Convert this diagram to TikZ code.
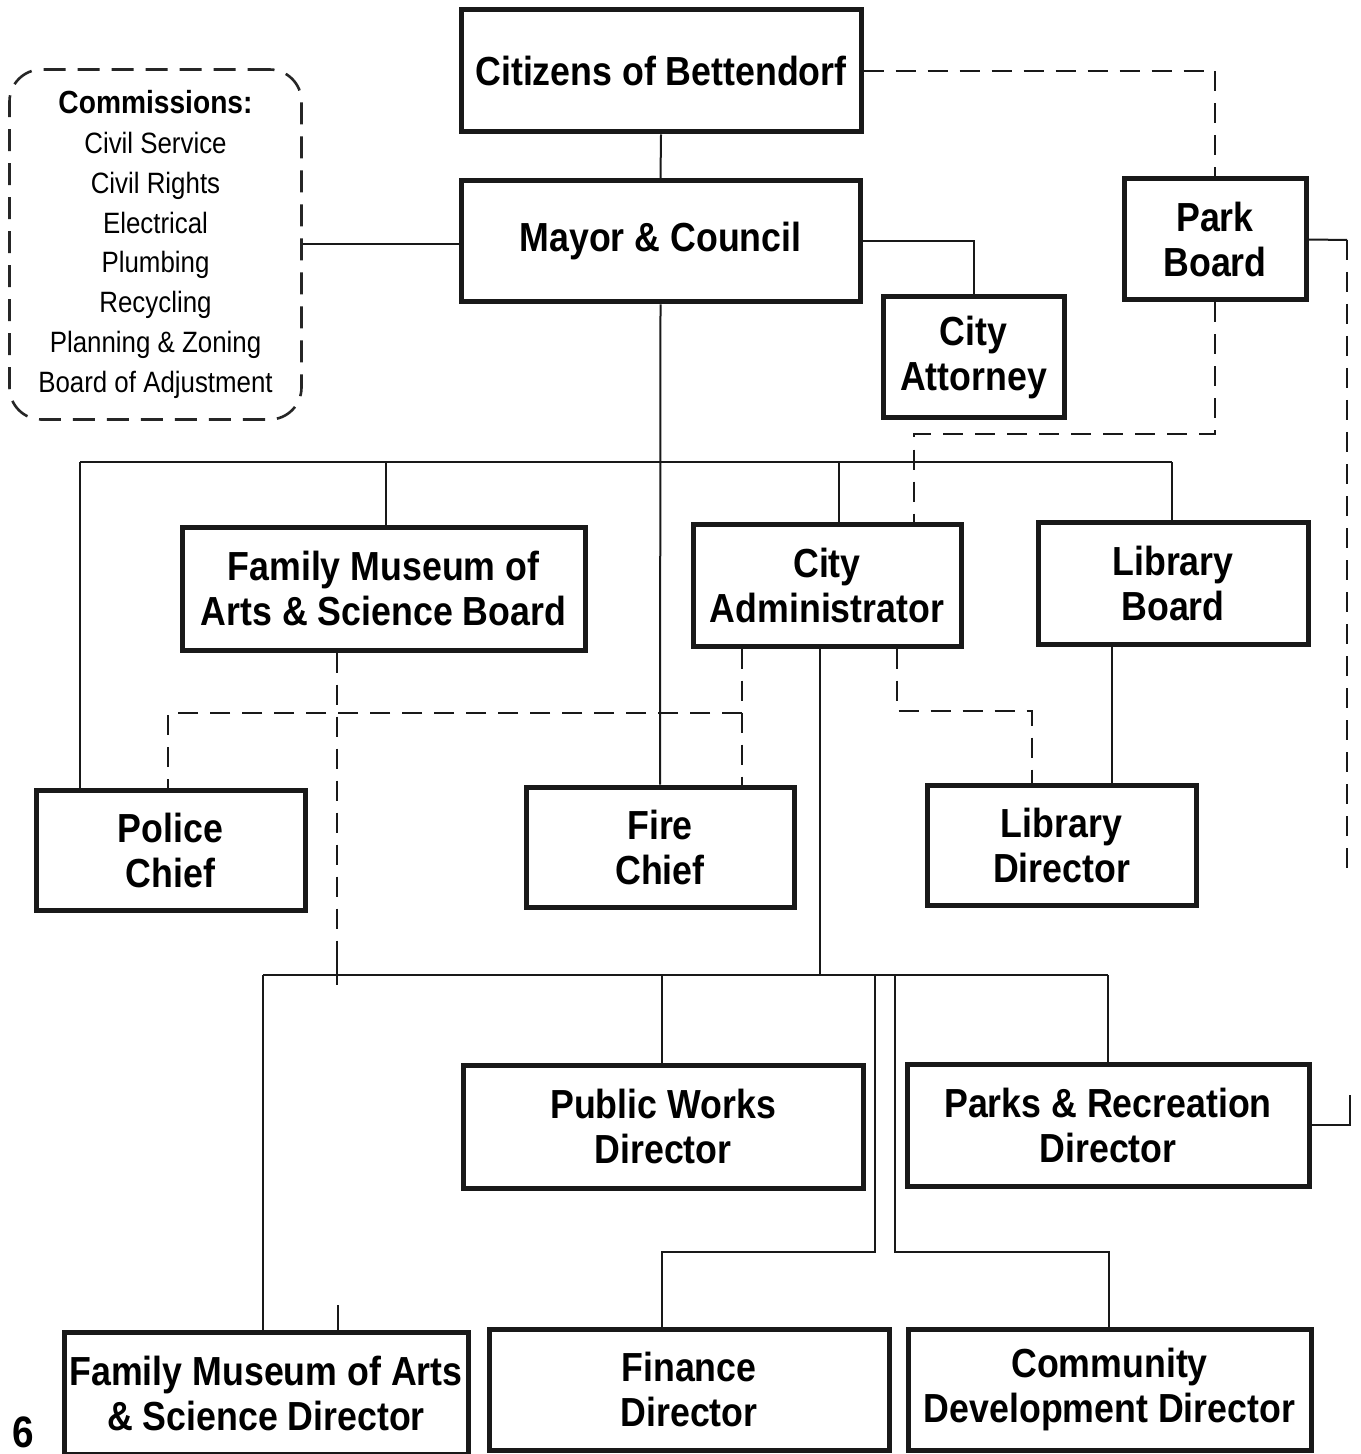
\documentclass[tikz,border=0pt]{standalone}
\usepackage{fontspec}
\setmainfont{Liberation Sans}[FakeStretch=0.88]
\begin{document}
\begin{tikzpicture}[x=0.5pt,y=-0.5pt,
  box/.style={draw=black!90, line width=2.5pt, fill=white, align=center,
    font=\bfseries\fontsize{20.3}{22.5}\selectfont, inner sep=0pt},
  conn/.style={line width=1pt, black!90},
  dsh/.style={line width=1.2pt, black!90, dash pattern=on 10pt off 6pt},
  combox/.style={draw=black!85, line width=1.3pt, dash pattern=on 11pt off 6pt,
    rounded corners=16pt, align=center, inner sep=0pt,
    font=\fontsize{14.7}{19.9}\selectfont},
]
\useasboundingbox (0,0) rectangle (1360,1454);
\fill[white] (0,0) rectangle (1360,1454);

% coordinates for connector bends
\coordinate (bL) at (80,462);
\coordinate (bF) at (386,462);
\coordinate (bA) at (839,462);
\coordinate (bR) at (1172,462);
\coordinate (pd) at (914,434);
\coordinate (pr1) at (1347,240);
\coordinate (pr2) at (1347,870);
\coordinate (pr3) at (1350,1095);
\coordinate (fd0) at (337,955);
\coordinate (fd1) at (337,985);
\coordinate (fd2) at (338,1305);
\coordinate (ad1) at (742,713);
\coordinate (ad2) at (168,713);
\coordinate (ad3) at (897,711);
\coordinate (ad4) at (1032,711);
\coordinate (lb) at (1112,700);
\coordinate (lbA) at (820,975);
\coordinate (lbL) at (263,975);
\coordinate (lbP) at (662,975);
\coordinate (lbR) at (1108,975);
\coordinate (f1) at (875,975);
\coordinate (f2) at (662,1252);
\coordinate (c1) at (895,975);
\coordinate (c2) at (1109,1252);

% nodes
\node[box, minimum width=200pt, minimum height=61pt] (cit) at (661,71) {Citizens of Bettendorf};
\node[box, minimum width=199.5pt, minimum height=60.5pt] (may) at (660.5,241.5) {Mayor \& Council};
\node[box, minimum width=90.5pt, minimum height=60.5pt] (att) at (973.5,357.5) {City\\Attorney};
\node[box, minimum width=91pt, minimum height=60.5pt] (park) at (1215,239.5) {Park\\Board};
\node[box, minimum width=201.5pt, minimum height=61.5pt] (fmb) at (383.5,588.5) {Family Museum of\\Arts \& Science Board};
\node[box, minimum width=134pt, minimum height=61pt] (adm) at (827,585) {City\\Administrator};
\node[box, minimum width=135pt, minimum height=61pt] (lib) at (1173,583) {Library\\Board};
\node[box, minimum width=134.5pt, minimum height=60pt] (pol) at (170.5,850) {Police\\Chief};
\node[box, minimum width=134pt, minimum height=60pt] (fire) at (660,847) {Fire\\Chief};
\node[box, minimum width=134.5pt, minimum height=60pt] (libd) at (1061.5,845) {Library\\Director};
\node[box, minimum width=200pt, minimum height=61.5pt] (pw) at (663,1126.5) {Public Works\\Director};
\node[box, minimum width=201pt, minimum height=61pt] (pr) at (1108,1125) {Parks \& Recreation\\Director};
\node[box, minimum width=202pt, minimum height=61pt] (fmd) at (266,1393) {Family Museum of Arts\\\& Science Director};
\node[box, minimum width=200pt, minimum height=60.5pt] (fin) at (689,1389.5) {Finance\\Director};
\node[box, minimum width=201.5pt, minimum height=60.5pt] (cdd) at (1109.5,1389.5) {Community\\Development Director};
\node[combox, minimum width=146pt, minimum height=175pt] (com) at (155.5,244.5) {%
  {\bfseries\fontsize{16}{20}\selectfont Commissions:}\\
  Civil Service\\ Civil Rights\\ Electrical\\ Plumbing\\ Recycling\\ Planning \& Zoning\\ Board of Adjustment};
\node[font=\bfseries\fontsize{22}{24}\selectfont, inner sep=0pt] (pg) at (23,1432) {6};

% solid connectors
\draw[conn] (cit.south) -- (may.north);
\draw[conn] (com.east) -- (com.east -| may.west);
\draw[conn] (may.east) -| (att.north);
\draw[conn] (may.south) -- (fire.north);
\draw[conn] (bL) -- (bR);
\draw[conn] (bL) -- (bL |- pol.north);
\draw[conn] (bF) -- (bF |- fmb.north);
\draw[conn] (bA) -- (bA |- adm.north);
\draw[conn] (bR) -- (bR |- lib.north);
\draw[conn] (park.east) -- (pr1);
\draw[conn] (pr.east) -| (pr3);
\draw[conn] (fd0) -- (fd1);
\draw[conn] (fd2) -- (fd2 |- fmd.north);
\draw[conn] (lb |- lib.south) -- (lb |- libd.north);
\draw[conn] (lbA |- adm.south) -- (lbA);
\draw[conn] (lbL) -- (lbR);
\draw[conn] (lbL) -- (lbL |- fmd.north);
\draw[conn] (lbP) -- (lbP |- pw.north);
\draw[conn] (lbR) -- (lbR |- pr.north);
\draw[conn] (f1) |- (f2) -- (f2 |- fin.north);
\draw[conn] (c1) |- (c2) -- (c2 |- cdd.north);

% dashed connectors
\draw[dsh] (cit.east) -| (park.north);
\draw[dsh] (park.south) |- (pd) -- (pd |- adm.north);
\draw[dsh] (pr1) -- (pr2);
\draw[dsh] (fd0 |- fmb.south) -- (fd0);
\draw[dsh] (ad1 |- adm.south) -- (ad1 |- fire.north);
\draw[dsh] (ad1) -- (ad2) -- (ad2 |- pol.north);
\draw[dsh] (ad3 |- adm.south) -- (ad3) -- (ad4) -- (ad4 |- libd.north);
\end{tikzpicture}
\end{document}
